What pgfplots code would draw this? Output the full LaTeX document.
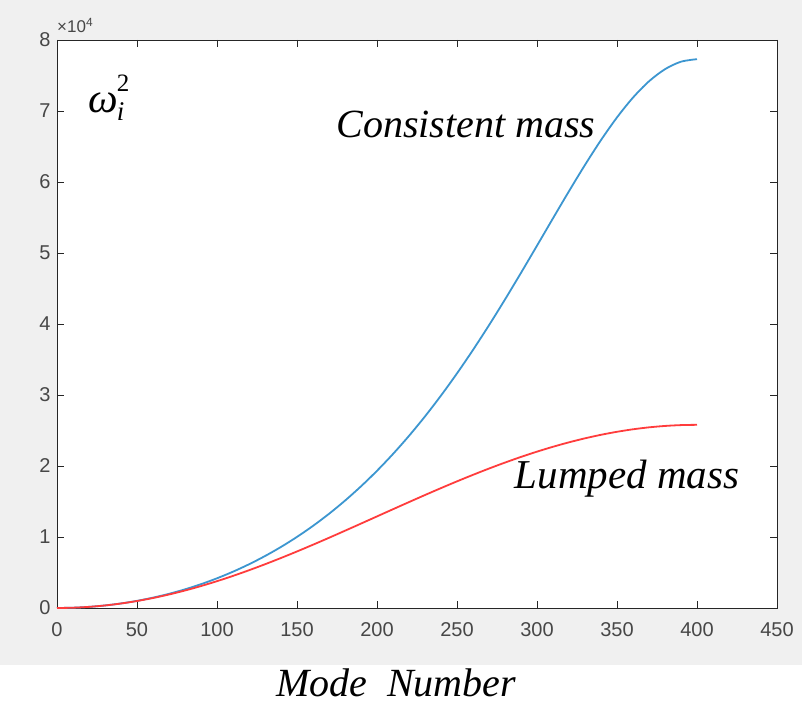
\documentclass[border=0pt]{standalone}
\usepackage{pgfplots}
\pgfplotsset{compat=1.18}
\usepackage{fontspec}
\setmainfont{Liberation Serif}
\newfontfamily\ticksfont{Liberation Sans}

\definecolor{cblue}{HTML}{3C96D0}
\definecolor{lred}{HTML}{FF3C3C}
\definecolor{figbg}{HTML}{F0F0F0}
\definecolor{axgray}{HTML}{262626}

\begin{document}
\begin{tikzpicture}
\path[use as bounding box] (0,0) rectangle (807pt,707pt);
\fill[figbg] (0,42pt) rectangle (802pt,707pt);
\begin{axis}[
    at={(57pt,99pt)}, anchor=south west,
    scale only axis,
    width=720pt, height=568pt,
    xmin=0, xmax=450,
    ymin=0, ymax=80000,
    xtick={0,50,...,450},
    ytick={0,10000,...,80000},
    yticklabels={0,1,2,3,4,5,6,7,8},
    scaled y ticks=false,
    axis background/.style={fill=white},
    axis line style={axgray, line width=0.8pt},
    tick style={axgray, line width=0.8pt},
    major tick length=7pt,
    tick align=inside,
    xtick pos=both, ytick pos=both,
    tick label style={font=\ticksfont\fontsize{20}{20}\selectfont, text=axgray!85!white},
    /pgf/number format/assume math mode=true,
    xticklabel style={yshift=-11pt},
    yticklabel style={xshift=-3pt},
    clip=false,
    ]

    % consistent mass
    \addplot[color=cblue, line width=1.8pt, smooth] coordinates {
    (0,0) (10,40) (20,159) (30,359) (40,641) (50,1006) (60,1457) (70,1997)
    (80,2628) (90,3355) (100,4182) (110,5114) (120,6157) (130,7316) (140,8600)
    (150,10014) (160,11566) (170,13265) (180,15120) (190,17137) (200,19325)
    (210,21692) (220,24244) (230,26986) (240,29920) (250,33043) (260,36350)
    (270,39827) (280,43455) (290,47204) (300,51033) (310,54889) (320,58707)
    (330,62408) (340,65904) (350,69098) (360,71890) (370,74183) (380,75890)
    (390,76944) (400,77300)
    };

    % lumped mass
    \addplot[color=lred, line width=1.8pt, smooth] coordinates {
    (0,0) (10,40) (20,159) (30,356) (40,631) (50,982) (60,1406) (70,1901)
    (80,2464) (90,3091) (100,3778) (110,4522) (120,5318) (130,6160) (140,7044)
    (150,7963) (160,8914) (170,9888) (180,10882) (190,11888) (200,12900)
    (210,13912) (220,14918) (230,15912) (240,16886) (250,17837) (260,18756)
    (270,19640) (280,20482) (290,21278) (300,22022) (310,22709) (320,23336)
    (330,23899) (340,24394) (350,24818) (360,25169) (370,25444) (380,25641)
    (390,25760) (400,25800)
    };

    \node[anchor=base west, font=\itshape\fontsize{40}{40}\selectfont]
        at (axis cs:172.5,66240) {Consistent mass};
    \node[anchor=base west, font=\itshape\fontsize{41}{41}\selectfont]
        at (axis cs:284,16880) {Lumped mass};
    \node[anchor=base west, inner sep=0pt, text=axgray!85!white,
        font=\ticksfont\fontsize{17}{17}\selectfont]
        at (rel axis cs:0,1) [yshift=7pt] {×10\textsuperscript{4}};
\end{axis}
% omega_i^2 label, one text
\node[anchor=base west, inner sep=0pt, font=\itshape\fontsize{42}{42}\selectfont]
    at (88pt,594pt) {ω\kern-1pt\rlap{\raisebox{21pt}{\upshape\fontsize{25}{25}\selectfont 2}}\raisebox{-8pt}{\fontsize{27}{27}\selectfont i}};
\node[anchor=base, inner sep=0pt, font=\itshape\fontsize{40}{40}\selectfont]
    at (396pt,10pt) {Mode\ \ Number};
\end{tikzpicture}
\end{document}
